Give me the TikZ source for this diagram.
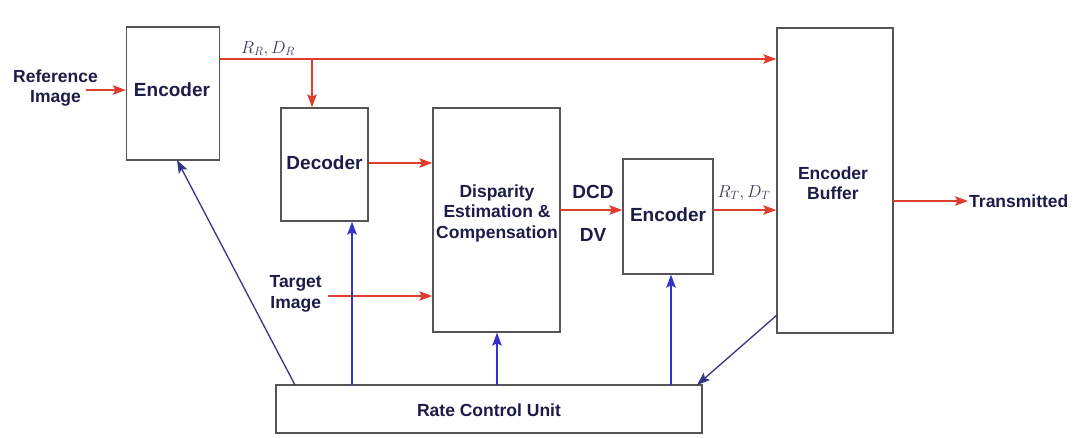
\documentclass[tikz,border=0pt]{standalone}
\usepackage{fontspec}
\setmainfont{Liberation Sans}
\usetikzlibrary{arrows.meta,calc}
\definecolor{txtc}{RGB}{28,28,72}
\definecolor{boxc}{RGB}{85,85,85}
\definecolor{redc}{RGB}{222,62,45}
\definecolor{bluec}{RGB}{50,50,205}
\begin{document}
\begin{tikzpicture}[x=1pt,y=-1pt,
  blk/.style={draw=boxc,line width=1.4pt,fill=white,inner sep=0pt},
  blbl/.style={text=txtc,font=\fontsize{19}{21.5}\selectfont\bfseries,align=center,inner sep=1pt},
  lbl/.style={text=txtc,font=\fontsize{17.5}{20.5}\selectfont\bfseries,align=center,inner sep=1pt},
  mlbl/.style={text=txtc!70!gray,font=\fontsize{17}{20}\selectfont,inner sep=0pt},
  redarr/.style={draw=redc,line width=1.3pt,-{Stealth[length=13pt,width=9.5pt,inset=2.5pt]}},
  bluearr/.style={draw=bluec,line width=1.4pt,-{Stealth[length=13pt,width=9.5pt,inset=2.5pt]}},
  bluediag/.style={draw=bluec!60!black!90,line width=1.3pt,-{Stealth[length=13pt,width=9.5pt,inset=2.5pt]}}]
\useasboundingbox[fill=white] (0,0) rectangle (1078,437);
% blocks
\node[blk,minimum width=93pt,minimum height=133pt] (enc1) at (173,93.5) {};
\node[blbl] at (172,90) {Encoder};
\node[blk,minimum width=87pt,minimum height=113pt] (dec) at (324.5,164.5) {};
\node[blbl] at (324.5,163) {Decoder};
\node[blk,minimum width=127pt,minimum height=224pt] (des) at (496.5,220) {};
\node[lbl] at (497,213) {Disparity\\Estimation \&\\Compensation};
\node[blk,minimum width=90pt,minimum height=115pt] (enc2) at (668,216.5) {};
\node[blbl] at (668,215) {Encoder};
\node[blk,minimum width=116pt,minimum height=305pt] (buf) at (835,180.5) {};
\node[lbl] at (833,183) {Encoder\\Buffer};
\node[blk,minimum width=426pt,minimum height=48pt] (rcu) at (489,409) {};
\node[lbl] at (489,410) {Rate Control Unit};
% free labels
\node[lbl,anchor=east] (refimg) at (99,88) {Reference\\Image};
\node[lbl,anchor=east] (tgt) at (323,294) {Target\\Image};
\node[lbl,anchor=west] (tx) at (968,201) {Transmitted};
\node[blbl] (dcd) at (593,192) {DCD};
\node[blbl] (dv) at (593,235) {DV};
\node[mlbl] (rrdr) at (268,49) {$R_R, D_R$};
\node[mlbl] (rtdt) at (744,193) {$R_T, D_T$};
% coordinates
\coordinate (rr) at (220,59);
\coordinate (br) at (312,59);
\coordinate (dcdo) at (560,210);
\coordinate (rto) at (713,210);
\coordinate (bufo) at (893,201);
\coordinate (tgto) at (328,296);
\coordinate (refo) at (86,90);
\coordinate (b1) at (295,385);
\coordinate (b1e) at (177,160);
\coordinate (b2) at (352,385);
\coordinate (b3) at (497,385);
\coordinate (b4) at (671,385);
\coordinate (b5) at (777,315);
\coordinate (b5e) at (697,385);
% red connectors
\draw[redarr] (refo) -- (refo -| enc1.west);
\draw[redarr] (rr) -- (rr -| buf.west);
\draw[redarr] (br) -- (br |- dec.north);
\draw[redarr] (dec.east |- 0,163) -- (des.west |- 0,163);
\draw[redarr] (tgto) -- (tgto -| des.west);
\draw[redarr] (dcdo) -- (dcdo -| enc2.west);
\draw[redarr] (rto) -- (rto -| buf.west);
\draw[redarr] (bufo) -- (tx.west);
% blue connectors
\draw[bluediag] (b1) -- (b1e);
\draw[bluearr] (b2) -- (b2 |- dec.south);
\draw[bluearr] (b3) -- (b3 |- des.south);
\draw[bluearr] (b4) -- (b4 |- enc2.south);
\draw[bluediag] (b5) -- (b5e);
\end{tikzpicture}
\end{document}
